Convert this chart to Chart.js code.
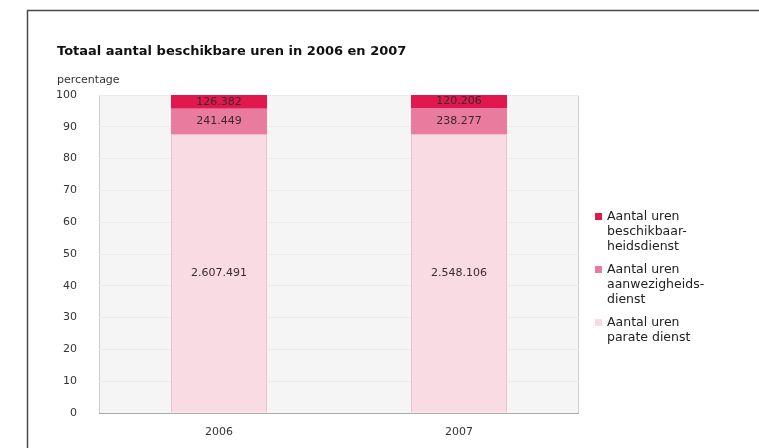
<!DOCTYPE html>
<html lang="nl">
<head>
    <meta charset="UTF-8">
    <title>Totaal aantal beschikbare uren in 2006 en 2007</title>
    <script src="https://cdn.jsdelivr.net/npm/chart.js"></script>
    <style>
        body { margin: 0; background: #fff; }
        canvas { display: block; }
    </style>
</head>
<body>
    <canvas id="grafiek" width="759" height="448"></canvas>

    <script>
        // gegevens
        const jaren = ['2006', '2007'];
        // percentages (hoogte van de balken)
        const parateDienst = [87.6, 87.7];
        const aanwezigheid = [8.1, 8.2];
        const beschikbaarheid = [4.3, 4.1];
        // absolute aantallen (labels in de balken)
        const urenParate = ['2.607.491', '2.548.106'];
        const urenAanwezig = ['241.449', '238.277'];
        const urenBeschikbaar = ['126.382', '120.206'];
        const yTicks = [0, 10, 20, 30, 40, 50, 60, 70, 80, 90, 100];

        const titel = 'Totaal aantal beschikbare uren in 2006 en 2007';
        const legendaRegels = [
            ['Aantal uren', 'beschikbaar-', 'heidsdienst'],
            ['Aantal uren', 'aanwezigheids-', 'dienst'],
            ['Aantal uren', 'parate dienst']
        ];
        const kleuren = ['#e0184d', '#e97b9e', '#f9dbe3'];
        const font = 'DejaVu Sans, Verdana, sans-serif';

        const extras = {
            id: 'extras',
            beforeDraw(chart) {
                const ctx = chart.ctx;
                const a = chart.chartArea;
                ctx.save();
                ctx.fillStyle = '#fff';
                ctx.fillRect(0, 0, chart.width, chart.height);
                // kader
                ctx.strokeStyle = '#4a4a4a';
                ctx.lineWidth = 1.5;
                ctx.strokeRect(27.5, 10.5, chart.width, chart.height);
                // plotgebied
                ctx.fillStyle = '#f5f5f5';
                ctx.fillRect(a.left, a.top, a.right - a.left, a.bottom - a.top);
                ctx.strokeStyle = '#cdcdcd';
                ctx.lineWidth = 1;
                ctx.strokeRect(a.left + 0.5, a.top + 0.5, a.right - a.left - 1, a.bottom - a.top);
                // titel
                ctx.fillStyle = '#111';
                ctx.textBaseline = 'middle';
                ctx.font = 'bold 13px ' + font;
                ctx.fillText(titel, 57, 52);
                ctx.fillStyle = '#333';
                ctx.font = '11px ' + font;
                ctx.fillText('percentage', 57, 80);
                ctx.restore();
            },
            afterDatasetsDraw(chart) {
                const ctx = chart.ctx;
                const a = chart.chartArea;
                ctx.save();
                ctx.strokeStyle = '#a8a8a8';
                ctx.beginPath();
                ctx.moveTo(a.left, a.bottom + 0.5);
                ctx.lineTo(a.right, a.bottom + 0.5);
                ctx.stroke();
                // waarden in de balken
                ctx.fillStyle = '#3a2a30';
                ctx.font = '11px ' + font;
                ctx.textAlign = 'center';
                ctx.textBaseline = 'middle';
                chart.data.datasets.forEach((ds, i) => {
                    chart.getDatasetMeta(i).data.forEach((bar, j) => {
                        const y = (bar.y + bar.base) / 2;
                        ctx.fillText(ds.waarden[j], bar.x, y);
                    });
                });
                // legenda
                ctx.textAlign = 'left';
                ctx.font = '12.5px ' + font;
                let y = 216.5;
                legendaRegels.forEach((regels, i) => {
                    ctx.fillStyle = kleuren[i];
                    ctx.fillRect(595, y - 3.5, 7, 7);
                    ctx.fillStyle = '#222';
                    regels.forEach((r, k) => ctx.fillText(r, 607, y + k * 15));
                    y += regels.length * 15 + 8;
                });
                ctx.restore();
            }
        };

        new Chart(document.getElementById('grafiek'), {
            type: 'bar',
            data: {
                labels: jaren,
                datasets: [
                    { label: 'Aantal uren parate dienst', data: parateDienst, waarden: urenParate,
                      backgroundColor: kleuren[2], borderColor: '#eec2cd', borderWidth: 1, borderSkipped: 'bottom' },
                    { label: 'Aantal uren aanwezigheidsdienst', data: aanwezigheid, waarden: urenAanwezig,
                      backgroundColor: kleuren[1], borderWidth: 0 },
                    { label: 'Aantal uren beschikbaarheidsdienst', data: beschikbaarheid, waarden: urenBeschikbaar,
                      backgroundColor: kleuren[0], borderWidth: 0 }
                ]
            },
            options: {
                responsive: false,
                animation: false,
                barPercentage: 0.4,
                categoryPercentage: 1,
                layout: { padding: { left: 28, right: 180, top: 95, bottom: 0 } },
                plugins: {
                    legend: { display: false },
                    tooltip: { enabled: false }
                },
                scales: {
                    x: {
                        stacked: true,
                        grid: { display: false },
                        border: { display: false },
                        ticks: { color: '#333', font: { family: font, size: 11 }, padding: 5 },
                        afterFit(s) { s.height = 35; }
                    },
                    y: {
                        stacked: true,
                        min: 0,
                        max: 100,
                        afterBuildTicks(s) { s.ticks = yTicks.map(v => ({ value: v })); },
                        grid: { color: '#ebebeb', drawTicks: false },
                        border: { display: false },
                        ticks: { color: '#333', font: { family: font, size: 11 }, padding: 22 },
                        afterFit(s) { s.width = 71; }
                    }
                }
            },
            plugins: [extras]
        });
    </script>
</body>
</html>
